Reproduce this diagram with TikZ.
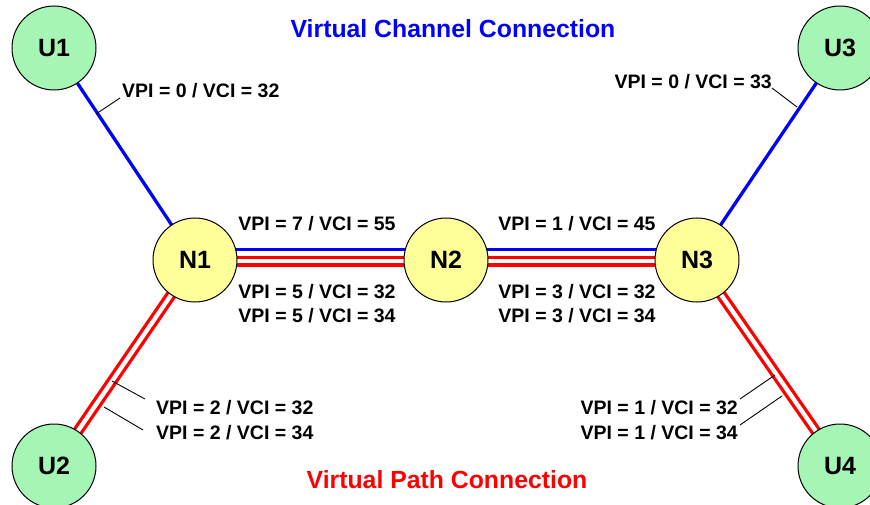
\documentclass[tikz,border=0pt]{standalone}
\usepackage{fontspec}
\setmainfont{Liberation Sans}
\usetikzlibrary{backgrounds}

\definecolor{usergreen}{RGB}{165,245,180}
\definecolor{switchyellow}{RGB}{255,255,153}

\begin{document}
\begin{tikzpicture}[x=1pt,y=-1pt,
  user/.style={circle,draw,line width=1pt,fill=usergreen,minimum size=84pt,inner sep=0pt,
    font=\fontsize{25}{28}\selectfont\bfseries},
  switch/.style={user,fill=switchyellow},
  vc/.style={draw=blue,line width=3.3pt},
  vp/.style={draw=red,line width=3.3pt,double=white,double distance=4.3pt},
  vpi/.style={inner sep=0pt,font=\fontsize{19.5}{22}\selectfont\bfseries},
  leader/.style={black,line width=0.9pt},
  heading/.style={inner sep=0pt,font=\fontsize{24.8}{28}\selectfont\bfseries}]

\useasboundingbox (0,0) rectangle (870,505);

% titles
\node[heading,blue] (vcc) at (453,29) {Virtual Channel Connection};
\node[heading,red] (vpc) at (447,480) {Virtual Path Connection};

% users and switches
\node[user] (U1) at (54,48) {U1};
\node[user] (U2) at (54,466) {U2};
\node[user] (U3) at (840,48) {U3};
\node[user] (U4) at (840,466) {U4};

\node[switch] (N1) at (195,260) {N1};
\node[switch] (N2) at (446,260) {N2};
\node[switch] (N3) at (697,260) {N3};

% links
\begin{scope}[on background layer]
\draw[vc] (U1.center) -- (N1.center) ;
\draw[vc] (N3.center) -- (U3.center) ;
\draw[vp] (N1.center) -- (U2.center) ;
\draw[vp] (N3.center) -- (U4.center) ;

\draw[vc] ([yshift=10.7pt]N1.center) -- ([yshift=10.7pt]N2.center) ;
\draw[vp] ([yshift=-1.2pt]N1.center) -- ([yshift=-1.2pt]N2.center) ;
\draw[vc] ([yshift=10.7pt]N2.center) -- ([yshift=10.7pt]N3.center) ;
\draw[vp] ([yshift=-1.2pt]N2.center) -- ([yshift=-1.2pt]N3.center) ;
\end{scope}

% VPI / VCI values
\node[vpi,anchor=west] (l1) at (122,91) {VPI = 0 / VCI = 32};
\node[vpi,anchor=east] (l3) at (772,82) {VPI = 0 / VCI = 33};

\node[vpi] (l12a) at (317,224) {VPI = 7 / VCI = 55};
\node[vpi] (l12b) at (317,292) {VPI = 5 / VCI = 32};
\node[vpi] (l12c) at (317,316) {VPI = 5 / VCI = 34};

\node[vpi] (l23a) at (577,224) {VPI = 1 / VCI = 45};
\node[vpi] (l23b) at (577,292) {VPI = 3 / VCI = 32};
\node[vpi] (l23c) at (577,316) {VPI = 3 / VCI = 34};

\node[vpi,anchor=west] (l2a) at (156,408) {VPI = 2 / VCI = 32};
\node[vpi,anchor=west] (l2b) at (156,433) {VPI = 2 / VCI = 34};
\node[vpi,anchor=east] (l4a) at (738,408) {VPI = 1 / VCI = 32};
\node[vpi,anchor=east] (l4b) at (738,433) {VPI = 1 / VCI = 34};

% leader lines
\coordinate (t1) at (96,114) ;
\coordinate (t3) at (797,107) ;
\coordinate (t2a) at (112,381) ;
\coordinate (t2b) at (104,407) ;
\coordinate (t4a) at (775,375) ;
\coordinate (t4b) at (782,396) ;

\draw[leader] ([shift={(-2,7)}]l1.west) -- (t1) ;
\draw[leader] ([shift={(0,6)}]l3.east) -- (t3) ;
\draw[leader] ([shift={(-11,-9)}]l2a.west) -- (t2a) ;
\draw[leader] ([shift={(-13,-3)}]l2b.west) -- (t2b) ;
\draw[leader] ([shift={(2,-9)}]l4a.east) -- (t4a) ;
\draw[leader] ([shift={(2,-8)}]l4b.east) -- (t4b) ;

\end{tikzpicture}
\end{document}
